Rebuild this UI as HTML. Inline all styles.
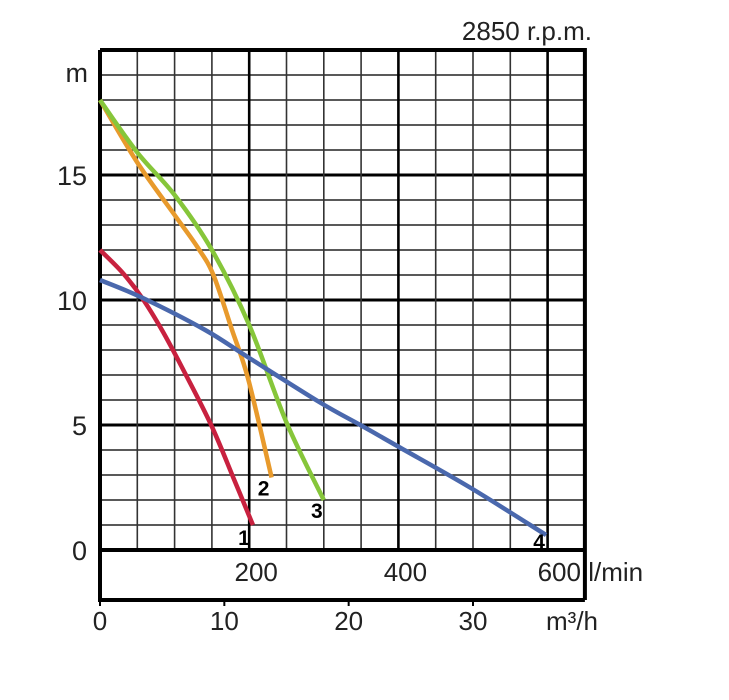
<!DOCTYPE html>
<html><head><meta charset="utf-8"><style>
html,body{margin:0;padding:0;background:#fff;}
svg{display:block;font-family:"Liberation Sans",Arial,sans-serif;}
</style></head><body>
<svg id="chart" width="729" height="700" viewBox="0 0 729 700">
<text x="592" y="40" text-anchor="end" font-size="26" fill="#222">2850 r.p.m.</text>
<g id="grid"></g>
<g id="curves"></g>
<g id="labels"></g>
</svg>
<script>
const curve1Q=[0,30,56,83,110,149,180,205];
const curve1H=[12,11.1,10.1,8.8,7.3,5,2.8,1];
const curve2Q=[0,50,100,131,152,177,199,230];
const curve2H=[18,15.5,13.4,12.1,11,8.8,6.8,2.9];
const curve3Q=[0,50,100,150,200,250,300];
const curve3H=[18,15.9,14.2,12,9,5.1,2];
const curve4Q=[0,56,141,199,295,349,402,496,598];
const curve4H=[10.8,10.1,8.8,7.7,5.9,5,4.1,2.5,0.6];
const yTicks=[0,5,10,15];
const lminTicks=[200,400,600];
const m3hTicks=[0,10,20,30];
const curveNames=["1","2","3","4"];
const curveColors=["#c8213f","#e89a2c","#86c63a","#4a68ad"];

const X0=100, PXQ=37.3/50, Y0=550, PXH=25, QMAX=650, HMAX=20;
const xs=q=>X0+q*PXQ, ys=h=>Y0-h*PXH;
const NS="http://www.w3.org/2000/svg";
function mk(tag,attrs,parent){const e=document.createElementNS(NS,tag);for(const k in attrs)e.setAttribute(k,attrs[k]);parent.appendChild(e);return e;}
const grid=document.getElementById('grid'),curves=document.getElementById('curves'),labels=document.getElementById('labels');
for(let h=0;h<=HMAX;h++){
  const thick=h%5===0;
  const l=mk('line',{x1:X0,x2:xs(QMAX),y1:ys(h),y2:ys(h),stroke:thick?'#000':'#222','stroke-width':thick?3:1.6},grid);
  
  
}
for(let q=0;q<=QMAX;q+=50){
  const thick=q%200===0;
  const l=mk('line',{x1:xs(q),x2:xs(q),y1:ys(HMAX),y2:ys(0),stroke:thick?'#000':'#333','stroke-width':thick?2.6:1.6},grid);
  
  
}
const fr=mk('path',{d:`M${X0},${ys(HMAX)} H${xs(QMAX)} V600 M${X0},${ys(HMAX)} V600 H${xs(QMAX)} M${X0},550 H${xs(QMAX)}`,stroke:'#000','stroke-width':4,fill:'none'},grid);


for(const t of m3hTicks){
  const tk=mk('line',{x1:X0+t*(1000/60)*PXQ,x2:X0+t*(1000/60)*PXQ,y1:600,y2:606,stroke:'#000','stroke-width':2},grid);
  
  
}
const series=[[curve1Q,curve1H],[curve2Q,curve2H],[curve3Q,curve3H],[curve4Q,curve4H]];
function smooth(pts){
  let d=`M${pts[0][0]},${pts[0][1]}`;
  for(let i=0;i<pts.length-1;i++){
    const p0=pts[i-1]||pts[i],p1=pts[i],p2=pts[i+1],p3=pts[i+2]||p2;
    const c1=[p1[0]+(p2[0]-p0[0])/6,p1[1]+(p2[1]-p0[1])/6];
    const c2=[p2[0]-(p3[0]-p1[0])/6,p2[1]-(p3[1]-p1[1])/6];
    d+=` C${c1[0]},${c1[1]} ${c2[0]},${c2[1]} ${p2[0]},${p2[1]}`;
  }
  return d;
}
const labelOff=[[-9,14],[-8,12],[-7,12],[-7,8]];
series.forEach((s,i)=>{
  const pts=s[0].map((q,j)=>[xs(q),ys(s[1][j])]);
  const p=mk('path',{d:smooth(pts),stroke:curveColors[i],'stroke-width':4.5,fill:'none','stroke-linejoin':'round'},curves);
  
  
  const e=pts[pts.length-1];
  const t=mk('text',{x:e[0]+labelOff[i][0],y:e[1]+labelOff[i][1]+6,'font-size':21,'font-weight':'bold','text-anchor':'middle',fill:'#000'},curves);
  t.textContent=curveNames[i];
  
  
});
for(const h of yTicks){
  const t=mk('text',{x:87,y:ys(h)+10,'font-size':27,'text-anchor':'end',fill:'#222'},labels);
  t.textContent=h;
  
  
}
const mt=mk('text',{x:88,y:ys(19)+7,'font-size':27,'text-anchor':'end',fill:'#222'},labels);
mt.textContent='m';


for(const q of lminTicks){
  const t=mk('text',{x:xs(q)+7,y:581,'font-size':26,'text-anchor':'middle',fill:'#222'},labels);
  t.textContent=q===600?'600 l/min':q;
  if(q===600){t.setAttribute('x',xs(q)-10);t.setAttribute('text-anchor','start');}
  
  
}
for(const m of m3hTicks){
  const t=mk('text',{x:X0+m*(1000/60)*PXQ,y:630,'font-size':26,'text-anchor':'middle',fill:'#222'},labels);
  t.textContent=m;
  
  
}
const mu=mk('text',{x:572,y:630,'font-size':26,'text-anchor':'middle',fill:'#222'},labels);
mu.textContent='m³/h';


</script>
</body></html>
